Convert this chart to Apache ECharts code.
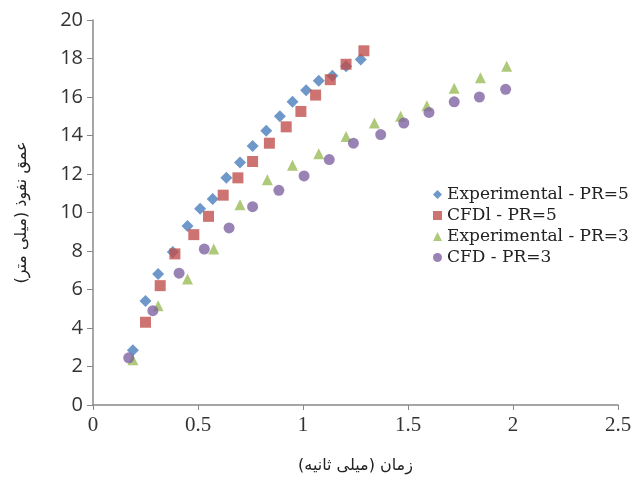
<!DOCTYPE html>
<html>
<head>
<meta charset="utf-8">
<script src="https://cdn.jsdelivr.net/npm/echarts@6/dist/echarts.min.js"></script>
<style>
  html, body { margin: 0; padding: 0; background: #fff; }
  #main { width: 642px; height: 487px; }
</style>
</head>
<body>
<div id="main"></div>
<script>
let myChart = echarts.init(document.getElementById("main"));

// [time ms, depth mm]
let expPR5 = [
  [0.19, 2.85], [0.25, 5.4], [0.31, 6.8], [0.38, 7.95], [0.45, 9.3],
  [0.51, 10.2], [0.57, 10.7], [0.635, 11.8], [0.7, 12.6], [0.76, 13.45],
  [0.825, 14.25], [0.89, 15.0], [0.95, 15.75], [1.015, 16.35], [1.075, 16.85],
  [1.14, 17.1], [1.205, 17.6], [1.275, 17.95]
];
let cfdPR5 = [
  [0.25, 4.3], [0.32, 6.2], [0.39, 7.85], [0.48, 8.85], [0.55, 9.8],
  [0.62, 10.9], [0.69, 11.8], [0.76, 12.65], [0.84, 13.6], [0.92, 14.45],
  [0.99, 15.25], [1.06, 16.1], [1.13, 16.9], [1.205, 17.7], [1.29, 18.4]
];
let expPR3 = [
  [0.19, 2.35], [0.31, 5.15], [0.45, 6.55], [0.575, 8.1], [0.7, 10.4],
  [0.83, 11.7], [0.95, 12.45], [1.075, 13.05], [1.205, 13.95], [1.34, 14.65],
  [1.465, 15.0], [1.59, 15.55], [1.72, 16.45], [1.845, 17.0], [1.97, 17.6]
];
let cfdPR3 = [
  [0.17, 2.45], [0.285, 4.9], [0.41, 6.85], [0.53, 8.1], [0.648, 9.2],
  [0.76, 10.3], [0.885, 11.15], [1.005, 11.9], [1.125, 12.75], [1.24, 13.6],
  [1.37, 14.05], [1.48, 14.65], [1.6, 15.2], [1.72, 15.75], [1.84, 16.0],
  [1.965, 16.4]
];
let seriesNames = [
  "Experimental - PR=5",
  "CFDl - PR=5",
  "Experimental - PR=3",
  "CFD - PR=3"
];
let xTitle = "زمان (میلی ثانیه)";
let yTitle = "عمق نفوذ (میلی متر)";

let axisGray = "#888888";

let option = {
  animation: false,
  grid: { left: 93, right: 24, top: 20, bottom: 82 },
  legend: {
    orient: "vertical",
    left: 428,
    top: 181,
    itemWidth: 9,
    itemHeight: 9,
    itemGap: 4,
    textStyle: {
      fontFamily: "DejaVu Serif",
      fontSize: 17,
      lineHeight: 16,
      color: "#222"
    },
    data: seriesNames
  },
  xAxis: {
    type: "value",
    min: 0,
    max: 2.5,
    interval: 0.5,
    name: xTitle,
    nameLocation: "middle",
    nameGap: 53,
    nameTextStyle: { fontFamily: "DejaVu Sans", fontSize: 16, color: "#222" },
    axisLine: { lineStyle: { color: axisGray, width: 1.5 } },
    axisTick: { show: true, length: 5, lineStyle: { color: axisGray } },
    axisLabel: { fontFamily: "Liberation Serif", fontSize: 21, color: "#333", margin: 10 },
    splitLine: { show: false }
  },
  yAxis: {
    type: "value",
    min: 0,
    max: 20,
    interval: 2,
    name: yTitle,
    nameLocation: "middle",
    nameRotate: 90,
    nameGap: 63,
    nameTextStyle: { fontFamily: "DejaVu Sans", fontSize: 16, color: "#222" },
    axisLine: { show: true, lineStyle: { color: axisGray, width: 1.5 } },
    axisTick: { show: true, length: 6, lineStyle: { color: axisGray } },
    axisLabel: { fontFamily: "Open Sans", fontSize: 20, color: "#333", margin: 10 },
    splitLine: { show: false }
  },
  series: [
    {
      name: seriesNames[0],
      type: "scatter",
      symbol: "diamond",
      symbolSize: 12,
      itemStyle: { color: "#4A7EBB" },
      data: expPR5
    },
    {
      name: seriesNames[1],
      type: "scatter",
      symbol: "rect",
      symbolSize: 11,
      itemStyle: { color: "#C0504D" },
      data: cfdPR5
    },
    {
      name: seriesNames[2],
      type: "scatter",
      symbol: "triangle",
      symbolSize: 11,
      itemStyle: { color: "#9BBB59" },
      data: expPR3
    },
    {
      name: seriesNames[3],
      type: "scatter",
      symbol: "circle",
      symbolSize: 11,
      itemStyle: { color: "#8064A2" },
      data: cfdPR3
    }
  ]
};
myChart.setOption(option);
</script>
</body>
</html>
